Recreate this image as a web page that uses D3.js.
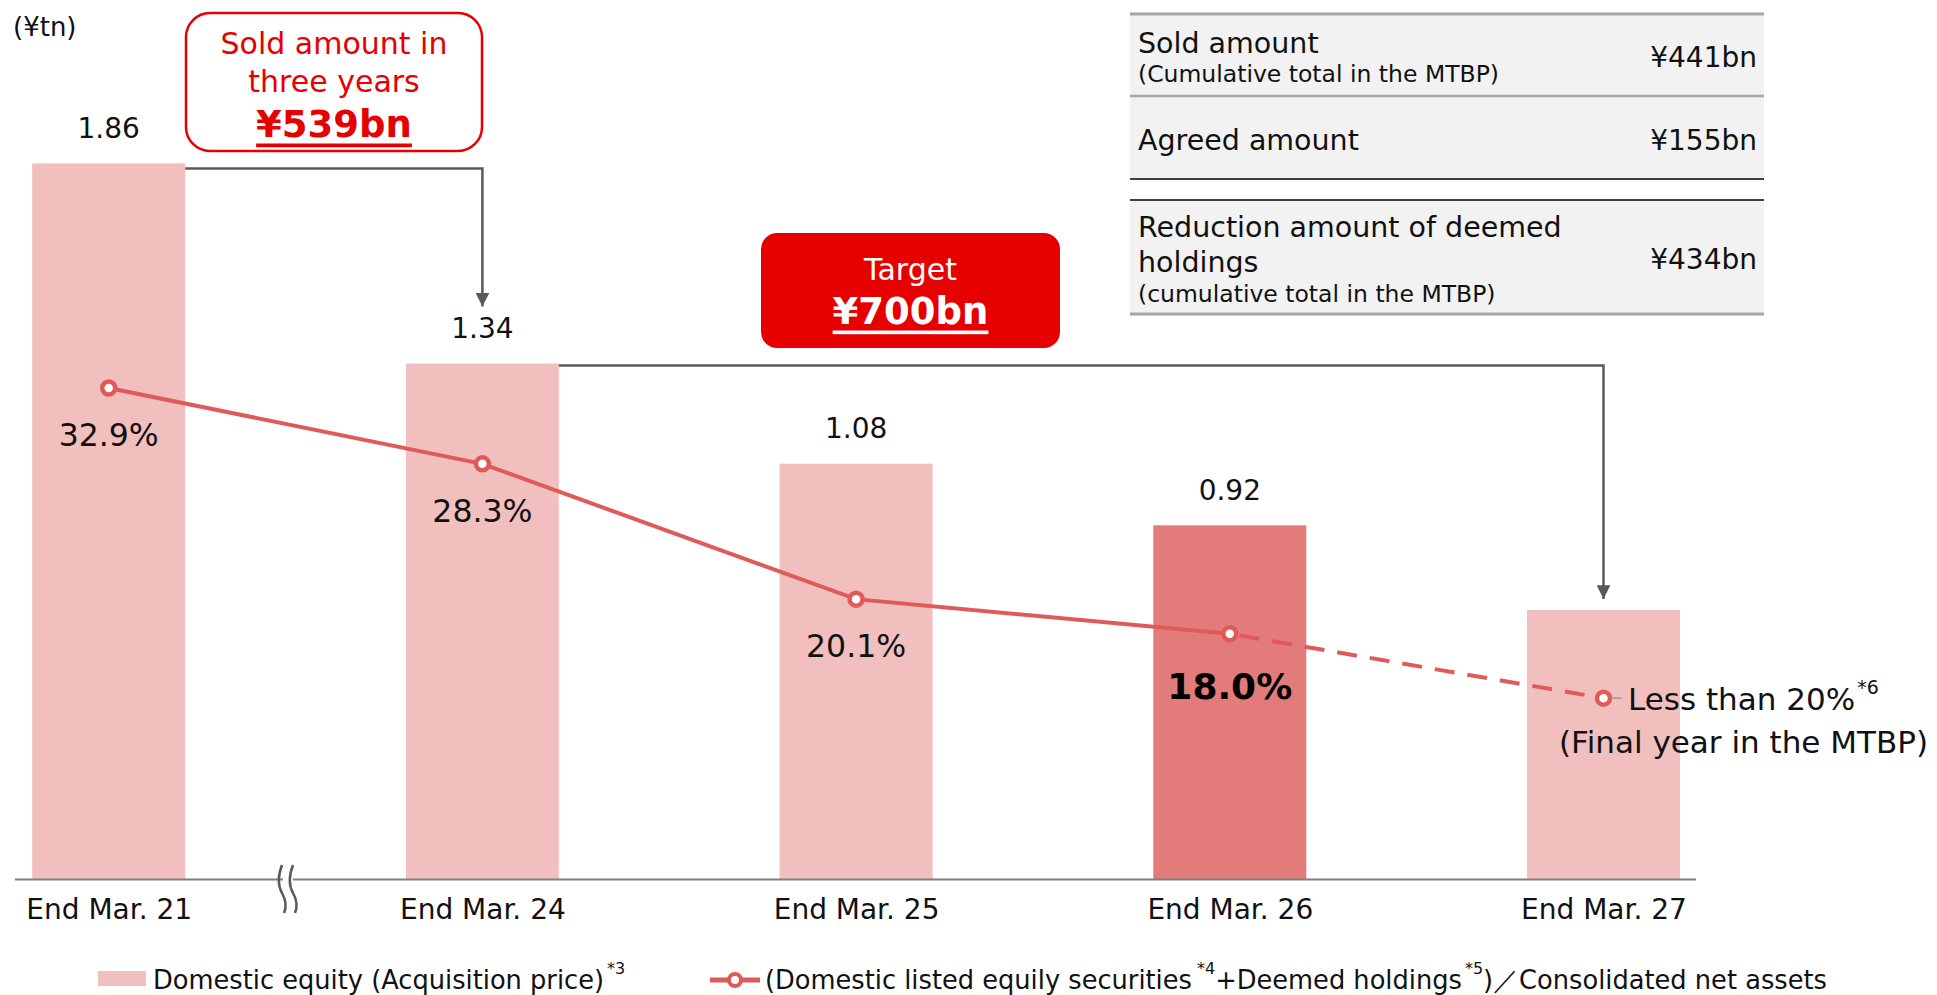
<!DOCTYPE html>
<html>
<head>
<meta charset="utf-8">
<script src="https://cdn.jsdelivr.net/npm/d3@7"></script>
<style>
  html, body { margin: 0; padding: 0; background: #fff; }
  svg { display: block; font-family: "DejaVu Sans", Verdana, sans-serif; }
</style>
</head>
<body>
<svg id="chart" width="1937" height="995"></svg>
<script>
// Fiscal year-ends on the horizontal axis
const categories = ["End Mar. 21", "End Mar. 24", "End Mar. 25", "End Mar. 26", "End Mar. 27"];
// Domestic equity at acquisition price (¥tn); last year is the plan, shown without a label
const equityValues = [1.86, 1.34, 1.08, 0.92, 0.70];
const equityLabels = ["1.86", "1.34", "1.08", "0.92", ""];
// Ratio to consolidated net assets (%); last point is the plan level
const ratioValues = [32.9, 28.3, 20.1, 18.0, 14.1];
const ratioLabels = ["32.9%", "28.3%", "20.1%", "18.0%", ""];
// Summary table
const tableTitles = [["Sold amount"], ["Agreed amount"], ["Reduction amount of deemed", "holdings"]];
const tableNotes = ["(Cumulative total in the MTBP)", "", "(cumulative total in the MTBP)"];
const tableValues = ["¥441bn", "¥155bn", "¥434bn"];

const svg = d3.select("#chart");
const RED = "#e60000";
const BAR = "#f2bfbf";
const BAR_HI = "#e37b7b";
const LINE = "#e05a5a";
const GREY = "#595959";

const baseY = 879.5;
const x = d3.scalePoint().domain(categories).range([108.7, 1603.5]);
const barW = 153;
const yBar = d3.scaleLinear().domain([0, 2]).range([baseY, baseY - 770]);
const yPct = d3.scaleLinear().domain([0, 40]).range([930.8, 270.8]);

// arrowhead
const defs = svg.append("defs");
defs.append("marker").attr("id", "arrow").attr("viewBox", "0 0 10 10")
  .attr("refX", 10).attr("refY", 5).attr("markerWidth", 5.5).attr("markerHeight", 5.5)
  .attr("markerUnits", "strokeWidth").attr("orient", "auto")
  .append("path").attr("d", "M0,0 L10,5 L0,10 Z").attr("fill", GREY);

// bars
svg.append("g").selectAll("rect").data(categories).join("rect")
  .attr("x", d => x(d) - barW / 2)
  .attr("y", (d, i) => yBar(equityValues[i]))
  .attr("width", barW)
  .attr("height", (d, i) => baseY - yBar(equityValues[i]))
  .attr("fill", (d, i) => i === 3 ? BAR_HI : BAR);

// bar value labels
svg.append("g").selectAll("text").data(categories).join("text")
  .attr("x", d => x(d))
  .attr("y", (d, i) => yBar(equityValues[i]) - 35)
  .attr("text-anchor", "middle").attr("dominant-baseline", "central")
  .attr("font-size", 28).attr("fill", "#111")
  .text((d, i) => equityLabels[i]);

// category axis
const axis = d3.axisBottom(x).tickSize(0).tickPadding(20);
const gAxis = svg.append("g").attr("transform", `translate(0,${baseY})`).call(axis);
gAxis.select(".domain").remove();
gAxis.selectAll("text").attr("font-size", 28).attr("fill", "#111")
  .attr("font-family", "DejaVu Sans, sans-serif");
svg.append("line").attr("x1", 15).attr("x2", 1696).attr("y1", baseY).attr("y2", baseY)
  .attr("stroke", "#7f7f7f").attr("stroke-width", 2);

// axis break symbol
const brk = svg.append("g");
brk.append("rect").attr("x", 283).attr("y", baseY - 3).attr("width", 10).attr("height", 6).attr("fill", "#fff");
[282, 293].forEach(bx => {
  brk.append("path")
    .attr("d", `M${bx},865 C${bx - 5},878 ${bx - 4},886 ${bx},893 C${bx + 4},900 ${bx + 5},906 ${bx + 2},913`)
    .attr("fill", "none").attr("stroke", GREY).attr("stroke-width", 2.5);
});

// ratio line: solid for actuals, dashed toward the plan year
const pts = categories.map((c, i) => [x(c), yPct(ratioValues[i])]);
const line = d3.line();
svg.append("path").attr("d", line(pts.slice(0, 4)))
  .attr("fill", "none").attr("stroke", LINE).attr("stroke-width", 4);
svg.append("path").attr("d", line(pts.slice(3)))
  .attr("fill", "none").attr("stroke", LINE).attr("stroke-width", 4)
  .attr("stroke-dasharray", "20,13").attr("stroke-dashoffset", -10);
svg.append("g").selectAll("circle").data(pts).join("circle")
  .attr("cx", d => d[0]).attr("cy", d => d[1]).attr("r", 6.5)
  .attr("fill", "#fff").attr("stroke", LINE).attr("stroke-width", 4.5);

// ratio labels
svg.append("g").selectAll("text").data(categories).join("text")
  .attr("x", d => x(d))
  .attr("y", (d, i) => yPct(ratioValues[i]) + (i === 3 ? 53 : 47))
  .attr("text-anchor", "middle").attr("dominant-baseline", "central")
  .attr("font-size", (d, i) => i === 3 ? 36 : 31.5)
  .attr("font-weight", (d, i) => i === 3 ? "bold" : "normal")
  .attr("fill", (d, i) => i === 3 ? "#000" : "#111")
  .text((d, i) => ratioLabels[i]);

// plan label next to the last point
const last = pts[4];
svg.append("line").attr("x1", last[0] + 7).attr("x2", last[0] + 18)
  .attr("y1", last[1]).attr("y2", last[1]).attr("stroke", "#999").attr("stroke-width", 1.5);
const planT = svg.append("text").attr("x", 1628).attr("y", last[1] + 1)
  .attr("dominant-baseline", "central").attr("font-size", 31).attr("fill", "#111");
planT.append("tspan").text("Less than 20%");
planT.append("tspan").attr("font-size", 19).attr("dy", -12).attr("dx", 2).text("*6");
svg.append("text").attr("x", 1559).attr("y", 742)
  .attr("dominant-baseline", "central").attr("font-size", 31).attr("fill", "#111")
  .text("(Final year in the MTBP)");

// reduction brackets with arrows
const r1 = x(categories[0]) + barW / 2, r2 = x(categories[1]) + barW / 2;
svg.append("path")
  .attr("d", `M${r1},${yBar(equityValues[0]) + 5} H${x(categories[1])} V${yBar(equityValues[1]) - 57}`)
  .attr("fill", "none").attr("stroke", GREY).attr("stroke-width", 2.5).attr("marker-end", "url(#arrow)");
svg.append("path")
  .attr("d", `M${r2},${yBar(equityValues[1]) + 2} H${x(categories[4])} V${yBar(equityValues[4]) - 11}`)
  .attr("fill", "none").attr("stroke", GREY).attr("stroke-width", 2.5).attr("marker-end", "url(#arrow)");

// unit
svg.append("text").attr("x", 13).attr("y", 27).attr("dominant-baseline", "central")
  .attr("font-size", 26).attr("fill", "#111").text("(¥tn)");

// sold-amount callout
const sb = { x: 186, y: 13, w: 296, h: 138 };
svg.append("rect").attr("x", sb.x).attr("y", sb.y).attr("width", sb.w).attr("height", sb.h)
  .attr("rx", 24).attr("fill", "#fff").attr("stroke", RED).attr("stroke-width", 2.5);
const scx = sb.x + sb.w / 2;
svg.append("text").attr("x", scx).attr("y", 43).attr("text-anchor", "middle").attr("dominant-baseline", "central")
  .attr("font-size", 30).attr("fill", RED).text("Sold amount in");
svg.append("text").attr("x", scx).attr("y", 81).attr("text-anchor", "middle").attr("dominant-baseline", "central")
  .attr("font-size", 30).attr("fill", RED).text("three years");
svg.append("text").attr("x", scx).attr("y", 124).attr("text-anchor", "middle").attr("dominant-baseline", "central")
  .attr("font-size", 37).attr("font-weight", "bold").attr("fill", RED)
  .attr("text-decoration", "underline").text("¥539bn");

// target callout
const tb = { x: 761, y: 233, w: 299, h: 115 };
svg.append("rect").attr("x", tb.x).attr("y", tb.y).attr("width", tb.w).attr("height", tb.h)
  .attr("rx", 16).attr("fill", RED);
const tcx = tb.x + tb.w / 2;
svg.append("text").attr("x", tcx).attr("y", 269).attr("text-anchor", "middle").attr("dominant-baseline", "central")
  .attr("font-size", 30).attr("fill", "#fff").text("Target");
svg.append("text").attr("x", tcx).attr("y", 311).attr("text-anchor", "middle").attr("dominant-baseline", "central")
  .attr("font-size", 37).attr("font-weight", "bold").attr("fill", "#fff")
  .attr("text-decoration", "underline").text("¥700bn");

// summary table
const tX0 = 1130, tX1 = 1764;
const rowBands = [[14, 96], [96, 179], [200, 314]];
const tbl = svg.append("g");
rowBands.forEach((b, i) => {
  tbl.append("rect").attr("x", tX0).attr("y", b[0]).attr("width", tX1 - tX0).attr("height", b[1] - b[0]).attr("fill", "#f2f2f2");
});
[[14, "#a6a6a6", 3], [96, "#a6a6a6", 2.5], [179, "#404040", 2], [200, "#404040", 2], [314, "#a6a6a6", 3]].forEach(l => {
  tbl.append("line").attr("x1", tX0).attr("x2", tX1).attr("y1", l[0]).attr("y2", l[0])
    .attr("stroke", l[1]).attr("stroke-width", l[2]);
});
const titleY = [[43], [140], [227, 262]];
const noteY = [74, null, 294];
const valueY = [57, 140, 259];
tableTitles.forEach((lines, i) => {
  lines.forEach((t, j) => {
    tbl.append("text").attr("x", 1138).attr("y", titleY[i][j]).attr("dominant-baseline", "central")
      .attr("font-size", 28.5).attr("fill", "#111").text(t);
  });
  if (tableNotes[i]) {
    tbl.append("text").attr("x", 1138).attr("y", noteY[i]).attr("dominant-baseline", "central")
      .attr("font-size", 23.5).attr("fill", "#111").text(tableNotes[i]);
  }
  tbl.append("text").attr("x", 1757).attr("y", valueY[i]).attr("text-anchor", "end").attr("dominant-baseline", "central")
    .attr("font-size", 28).attr("fill", "#111").text(tableValues[i]);
});

// legend
const lg = svg.append("g");
lg.append("rect").attr("x", 98).attr("y", 971).attr("width", 48).attr("height", 15).attr("fill", BAR);
const l1 = lg.append("text").attr("x", 153).attr("y", 980).attr("dominant-baseline", "central")
  .attr("font-size", 25.7).attr("fill", "#111");
l1.append("tspan").text("Domestic equity (Acquisition price)");
l1.append("tspan").attr("font-size", 16).attr("dy", -12).attr("dx", 3).text("*3");

lg.append("line").attr("x1", 710).attr("x2", 760).attr("y1", 980).attr("y2", 980)
  .attr("stroke", LINE).attr("stroke-width", 5);
lg.append("circle").attr("cx", 735).attr("cy", 980).attr("r", 6)
  .attr("fill", "#fff").attr("stroke", LINE).attr("stroke-width", 4);
const l2 = lg.append("text").attr("x", 765).attr("y", 980).attr("dominant-baseline", "central")
  .attr("font-size", 25.7).attr("fill", "#111");
l2.append("tspan").text("(Domestic listed equily securities");
l2.append("tspan").attr("font-size", 16).attr("dy", -12).attr("dx", 5).text("*4");
l2.append("tspan").attr("dy", 12).text("+Deemed holdings");
l2.append("tspan").attr("font-size", 16).attr("dy", -12).attr("dx", 3).text("*5");
l2.append("tspan").attr("dy", 12).text(")／Consolidated net assets");
</script>
</body>
</html>
